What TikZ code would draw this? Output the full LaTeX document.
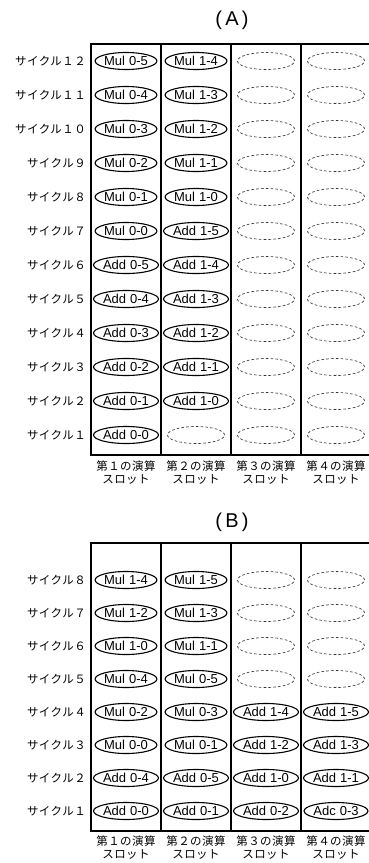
\documentclass[tikz,border=0pt]{standalone}
\usepackage{fontspec}
\setmainfont{Liberation Sans}
\newfontfamily\jp[LetterSpace=4]{Noto Sans CJK JP}
\usetikzlibrary{shapes.geometric}
\tikzset{
  tbl/.style={line width=1.3pt, line cap=rect},
  op/.style={ellipse, draw, line width=1.1pt, minimum width=56pt, minimum height=17pt, inner sep=0pt, font=\fontsize{13}{14}\selectfont},
  freeslot/.style={ellipse, draw=black!80, dash pattern=on 2.6pt off 2.2pt, line width=0.65pt, minimum width=57pt, minimum height=17pt, inner sep=0pt},
  lab/.style={anchor=east, inner sep=0pt, font=\jp\fontsize{11.5}{12}\selectfont},
  slot/.style={inner sep=0pt, font=\jp\fontsize{11.5}{12}\selectfont},
  ttl/.style={inner sep=0pt, font=\fontsize{20}{22}\selectfont}
}
\begin{document}
\begin{tikzpicture}[x=1pt,y=-1pt]
\useasboundingbox (0,0) rectangle (369,863);
% ---------------- (A) ----------------
\node[ttl] (ta) at (232,20) {(\,A\,)};
\draw[tbl] (91,44) rectangle (371,455);
\foreach \x in {161,231,301} \draw[tbl] (\x,44) -- (\x,455);
\foreach \t [count=\i] in {１２,１１,１０,９,８,７,６,５,４,３,２,１}
  \node[lab] (ca-\i) at (86,{61+(\i-1)*34}) {サイクル\t};
\foreach \a/\b [count=\i] in {Mul/0-5,Mul/0-4,Mul/0-3,Mul/0-2,Mul/0-1,Mul/0-0,Add/0-5,Add/0-4,Add/0-3,Add/0-2,Add/0-1,Add/0-0}
  \node[op] (a1-\i) at (126,{61+(\i-1)*34}) {\a\kern4pt\b};
\foreach \a/\b [count=\i] in {Mul/1-4,Mul/1-3,Mul/1-2,Mul/1-1,Mul/1-0,Add/1-5,Add/1-4,Add/1-3,Add/1-2,Add/1-1,Add/1-0}
  \node[op] (a2-\i) at (196,{61+(\i-1)*34}) {\a\kern4pt\b};
\node[freeslot] (a2-12) at (196,{61+11*34}) {};
\foreach \i in {1,...,12} {
  \node[freeslot] (a3-\i) at (266,{61+(\i-1)*34}) {};
  \node[freeslot] (a4-\i) at (336,{61+(\i-1)*34}) {};
}
\foreach \t/\x [count=\i] in {１/126,２/196,３/266,４/336} {
  \node[slot] (sa-\i) at (\x,466) {第\t の演算};
  \node[slot] (sb-\i) at (\x,479) {スロット};
}
% ---------------- (B) ----------------
\node[ttl] (tb) at (232,522) {(\,B\,)};
\draw[tbl] (91,543) rectangle (371,831);
\foreach \x in {161,231,301} \draw[tbl] (\x,543) -- (\x,831);
\foreach \t [count=\i] in {８,７,６,５,４,３,２,１}
  \node[lab] (cb-\i) at (86,{580+(\i-1)*33}) {サイクル\t};
\foreach \a/\b [count=\i] in {Mul/1-4,Mul/1-2,Mul/1-0,Mul/0-4,Mul/0-2,Mul/0-0,Add/0-4,Add/0-0}
  \node[op] (b1-\i) at (126,{580+(\i-1)*33}) {\a\kern4pt\b};
\foreach \a/\b [count=\i] in {Mul/1-5,Mul/1-3,Mul/1-1,Mul/0-5,Mul/0-3,Mul/0-1,Add/0-5,Add/0-1}
  \node[op] (b2-\i) at (196,{580+(\i-1)*33}) {\a\kern4pt\b};
\foreach \i in {1,...,4} {
  \node[freeslot] (b3-\i) at (266,{580+(\i-1)*33}) {};
  \node[freeslot] (b4-\i) at (336,{580+(\i-1)*33}) {};
}
\foreach \a/\b [count=\i from 5] in {Add/1-4,Add/1-2,Add/1-0,Add/0-2}
  \node[op] (b3-\i) at (266,{580+(\i-1)*33}) {\a\kern4pt\b};
\foreach \a/\b [count=\i from 5] in {Add/1-5,Add/1-3,Add/1-1,Adc/0-3}
  \node[op] (b4-\i) at (336,{580+(\i-1)*33}) {\a\kern4pt\b};
\foreach \t/\x [count=\i] in {１/126,２/196,３/266,４/336} {
  \node[slot] (sc-\i) at (\x,841) {第\t の演算};
  \node[slot] (sd-\i) at (\x,854) {スロット};
}
\end{tikzpicture}
\end{document}
